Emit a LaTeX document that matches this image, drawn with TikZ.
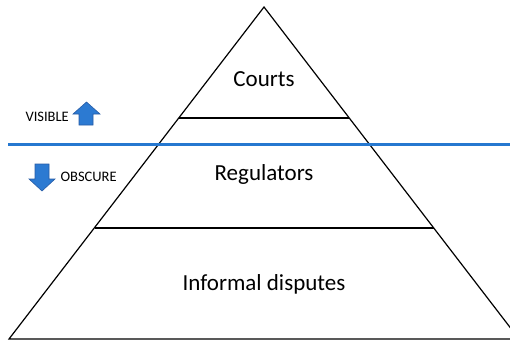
\documentclass[tikz,border=0pt]{standalone}
\usepackage{fontspec}
\setmainfont{Carlito}
\definecolor{arrowblue}{RGB}{44,122,210}
\definecolor{arrowedge}{RGB}{40,92,165}
\definecolor{lineblue}{RGB}{38,120,208}
\begin{document}
\begin{tikzpicture}[x=1pt,y=-1pt,
  edge/.style={draw=black,line width=1.2pt},
  tier/.style={font=\fontsize{23}{26}\selectfont,anchor=base},
  side/.style={font=\fontsize{14.5}{16}\selectfont,anchor=base west},
  blockarrow/.style={fill=arrowblue,draw=arrowedge,line width=0.6pt,line join=miter}]
\useasboundingbox (0,0) rectangle (510,341);
\clip (0,0) rectangle (510,341);
\coordinate (apex) at (264,7);
\coordinate (bl) at (9,339);
\coordinate (br) at (519,339);
\coordinate (a1) at (179,118);
\coordinate (b1) at (349,118);
\coordinate (a2) at (94.5,228);
\coordinate (b2) at (433.5,228);
\coordinate (w1) at (8,144.5);
\coordinate (w2) at (512,144.5);
\draw[edge,line join=miter] (apex) -- (bl) -- (br) -- cycle;
\draw[edge] (a1) -- (b1);
\draw[edge] (a2) -- (b2);
\draw[draw=lineblue,line width=3pt] (w1) -- (w2);
\node[tier] (courts) at (264,86.5) {Courts};
\node[tier] (reg) at (264,180.5) {Regulators};
\node[tier] (inf) at (264,290) {Informal disputes};
\node[side] (vis) at (22,121.5) {VISIBLE};
\node[side] (obs) at (57,181) {OBSCURE};
\draw[blockarrow] (86.5,102) -- (100,114) -- (93,114) -- (93,125) -- (79,125) -- (79,114) -- (73,114) -- cycle;
\draw[blockarrow] (42,191) -- (55,179) -- (49,179) -- (49,164) -- (35,164) -- (35,179) -- (29,179) -- cycle;
\end{tikzpicture}
\end{document}
